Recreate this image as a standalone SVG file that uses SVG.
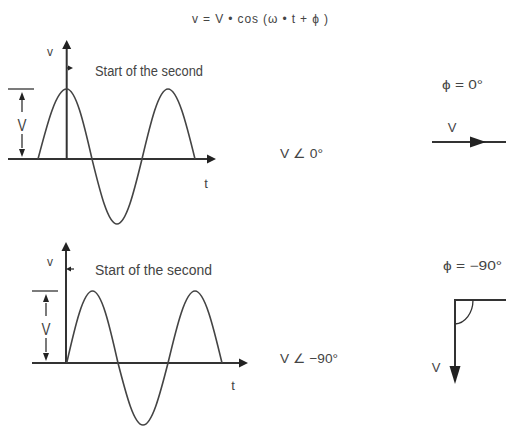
<svg xmlns="http://www.w3.org/2000/svg" width="506" height="427" viewBox="0 0 506 427">
<style>
text{font-family:"Liberation Sans",Arial,sans-serif;fill:#444}
.ax{stroke:#333;stroke-width:2;fill:none}
.thin{stroke:#333;stroke-width:1.3;fill:none}
.wave{stroke:#444;stroke-width:1.6;fill:none}
.head{fill:#222;stroke:none}
</style>
<defs>
<marker id="ah" viewBox="0 0 10 10" refX="9" refY="5" markerWidth="5" markerHeight="5" orient="auto" markerUnits="userSpaceOnUse">
<path d="M0,0 L10,5 L0,10 z" fill="#222"/>
</marker>
</defs>
<rect width="506" height="427" fill="#fff"/>

<g id="formula">
<text x="192" y="23" font-size="12" textLength="136" lengthAdjust="spacing">v = V • cos (ω • t + ϕ )</text>
</g>

<g id="graph-top">
<path class="ax" d="M8,159 H208"/>
<path class="head" d="M216,159 L207,154.5 L207,163.5 z"/>
<path class="ax" d="M66.7,159 V48"/>
<path class="head" d="M66.7,40 L62.2,49 L71.2,49 z"/>
<path class="thin" d="M8,89 H34"/>
<path class="thin" d="M22,100 V112 M22,134 V148"/>
<path class="head" d="M22,92 L19,100 L25,100 z"/>
<path class="head" d="M22,157 L19,149 L25,149 z"/>
<text x="22" y="131" font-size="17" text-anchor="middle" textLength="9" lengthAdjust="spacingAndGlyphs">V</text>
<text x="50" y="56" font-size="12" text-anchor="middle">v</text>
<path class="thin" d="M67,68 H70"/>
<path class="head" d="M73,68 L68,65.5 L68,70.5 z"/>
<text x="95" y="76" font-size="14" textLength="108" lengthAdjust="spacingAndGlyphs">Start of the second</text>
<text x="206" y="188" font-size="13" text-anchor="middle">t</text>
<path class="wave" d="M38,159 C47.4,123.1 56.3,89 66.7,89 C75.8,89 83.8,123.1 92,159 C100.2,192.3 108,224 117,224 C126,224 133.9,192.3 142,159 C150.5,123.1 158.6,89 168,89 C177.7,89 186.2,123.1 195,159"/>
</g>

<g id="graph-bottom">
<path class="ax" d="M32,363 H240"/>
<path class="head" d="M248,363 L239,358.5 L239,367.5 z"/>
<path class="ax" d="M66,363 V250"/>
<path class="head" d="M66,242 L61.5,251 L70.5,251 z"/>
<path class="thin" d="M32,291 H58"/>
<path class="thin" d="M46,303 V316 M46,338 V352"/>
<path class="head" d="M46,294 L43,302 L49,302 z"/>
<path class="head" d="M46,361 L43,353 L49,353 z"/>
<text x="46" y="335" font-size="17" text-anchor="middle" textLength="9" lengthAdjust="spacingAndGlyphs">V</text>
<text x="50" y="266" font-size="12" text-anchor="middle">v</text>
<path class="thin" d="M68,269 H74"/>
<path class="head" d="M66,269 L71,266.5 L71,271.5 z"/>
<text x="95" y="275" font-size="14" textLength="117" lengthAdjust="spacingAndGlyphs">Start of the second</text>
<text x="233" y="390" font-size="13" text-anchor="middle">t</text>
<path class="wave" d="M66.7,363 C75.1,326.1 83.2,291 92.5,291 C101.7,291 109.7,326.1 118,363 C126.2,394.8 134,425 143,425 C152,425 159.9,394.8 168,363 C176.8,326.1 185.3,291 195,291 C204.7,291 213.2,326.1 222,363"/>
</g>

<g id="polar-top">
<text x="280" y="158" font-size="13" textLength="43" lengthAdjust="spacingAndGlyphs">V ∠ 0°</text>
</g>

<g id="polar-bottom">
<text x="280" y="363" font-size="13" textLength="58" lengthAdjust="spacingAndGlyphs">V ∠ −90°</text>
</g>

<g id="phasor-top">
<text x="442" y="89" font-size="12" textLength="41" lengthAdjust="spacingAndGlyphs">ϕ = 0°</text>
<text x="452" y="132" font-size="13" text-anchor="middle">V</text>
<path class="ax" d="M432,142 H506"/>
<path class="head" d="M486,142 L470,136.5 L470,147.5 z"/>
</g>

<g id="phasor-bottom">
<text x="443" y="270" font-size="12" textLength="59" lengthAdjust="spacingAndGlyphs">ϕ = −90°</text>
<path class="ax" d="M506,300 H455 V368"/>
<path class="head" d="M455,384 L449.5,366 L460.5,366 z"/>
<path class="thin" d="M473,300 A19,24 0 0 1 455,324"/>
<text x="436" y="372" font-size="13" text-anchor="middle">V</text>
</g>
</svg>
